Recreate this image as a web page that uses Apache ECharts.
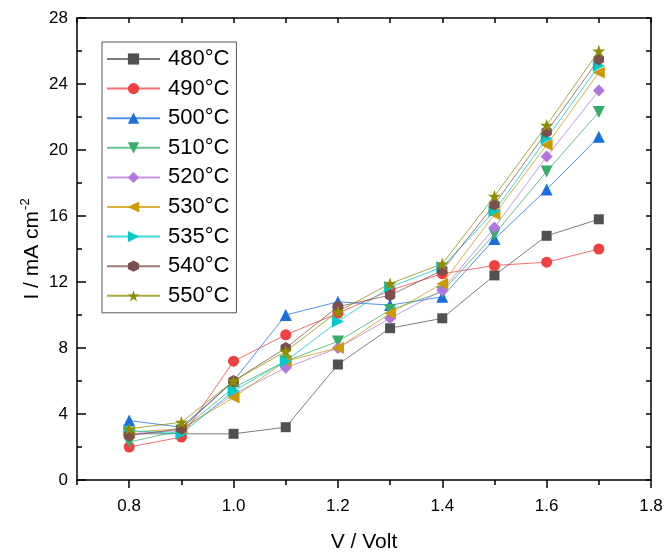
<!DOCTYPE html>
<html>
<head>
<meta charset="utf-8">
<script src="https://cdn.jsdelivr.net/npm/echarts@6/dist/echarts.min.js"></script>
<style>
  html, body { margin: 0; padding: 0; background: #fff; }
  #chart { width: 667px; height: 554px; }
</style>
</head>
<body>
<div id="chart"></div>
<script>
const volts = [0.8, 0.9, 1.0, 1.1, 1.2, 1.3, 1.4, 1.5, 1.6, 1.7];

const t480 = [2.8, 2.8, 2.8, 3.2, 7.0, 9.2, 9.8, 12.4, 14.8, 15.8];
const t490 = [2.0, 2.6, 7.2, 8.8, 10.1, 11.5, 12.5, 13.0, 13.2, 14.0];
const t500 = [3.6, 3.2, 6.0, 10.0, 10.8, 10.6, 11.1, 14.6, 17.6, 20.8];
const t510 = [2.3, 3.0, 5.6, 7.2, 8.4, 10.3, 11.4, 14.9, 18.7, 22.3];
const t520 = [2.8, 3.0, 5.2, 6.8, 8.0, 9.8, 11.5, 15.3, 19.6, 23.6];
const t530 = [2.9, 3.1, 5.0, 7.2, 8.0, 10.1, 11.9, 16.1, 20.3, 24.7];
const t535 = [3.0, 2.8, 5.4, 7.2, 9.6, 11.7, 12.9, 16.3, 20.7, 25.1];
const t540 = [2.7, 3.1, 6.0, 8.0, 10.5, 11.2, 12.7, 16.7, 21.1, 25.5];
const t550 = [3.1, 3.5, 6.0, 7.8, 10.2, 11.9, 13.1, 17.2, 21.5, 26.0];

const names = ['480°C', '490°C', '500°C', '510°C', '520°C', '530°C', '535°C', '540°C', '550°C'];

// tick positions
const xMajorTicks = [0.8, 1.0, 1.2, 1.4, 1.6, 1.8];
const xMinorTicks = [0.7, 0.9, 1.1, 1.3, 1.5, 1.7];
const xTopTicks = [0.7, 0.8, 0.9, 1.0, 1.1, 1.2, 1.3, 1.4, 1.5, 1.6, 1.7, 1.8];
const yTicks = [0, 4, 8, 12, 16, 20, 24, 28];

const FONT = '"Liberation Sans", Arial, sans-serif';

const hexagon = 'path://M0,-1 L0.866,-0.5 L0.866,0.5 L0,1 L-0.866,0.5 L-0.866,-0.5 Z';
const star = 'path://M0,-1 L0.235,-0.324 L0.951,-0.309 L0.380,0.124 L0.588,0.809 L0,0.4 L-0.588,0.809 L-0.380,0.124 L-0.951,-0.309 L-0.235,-0.324 Z';

const styles = [
  { data: t480, color: '#515151', symbol: 'rect', size: 10, rotate: 0 },
  { data: t490, color: '#F14040', symbol: 'circle', size: 11, rotate: 0 },
  { data: t500, color: '#1A6FDF', symbol: 'triangle', size: 12, rotate: 0 },
  { data: t510, color: '#37AD6B', symbol: 'triangle', size: 12, rotate: 180 },
  { data: t520, color: '#B177DE', symbol: 'diamond', size: 12, rotate: 0 },
  { data: t530, color: '#CC9900', symbol: 'triangle', size: 12, rotate: 90 },
  { data: t535, color: '#00CBCC', symbol: 'triangle', size: 12, rotate: -90 },
  { data: t540, color: '#7D4E4E', symbol: hexagon, size: 12, rotate: 0 },
  { data: t550, color: '#8E8E00', symbol: star, size: 13, rotate: 0 }
];

const chart = echarts.init(document.getElementById('chart'));

const option = {
  animation: false,
  backgroundColor: '#fff',
  grid: { left: 77, right: 16, top: 18, bottom: 74, outerBoundsMode: 'none' },
  legend: {
    orient: 'vertical',
    left: 102,
    top: 42,
    padding: [5, 7, 5, 4],
    borderColor: '#555',
    borderWidth: 1,
    itemWidth: 53,
    itemHeight: 14,
    itemGap: 5.6,
    textStyle: { fontSize: 22, fontFamily: FONT, color: '#000', lineHeight: 24, padding: [0, 0, 0, 3] },
    data: names
  },
  xAxis: [
    {
      type: 'value', position: 'bottom', min: 0.7, max: 1.8,
      name: 'V / Volt', nameLocation: 'middle', nameGap: 52, nameMoveOverlap: false,
      nameTextStyle: { fontSize: 21, fontFamily: FONT, color: '#000' },
      axisLine: { lineStyle: { color: '#000', width: 1.5 } },
      axisTick: { customValues: xMajorTicks, length: 8, lineStyle: { color: '#000', width: 1.5 } },
      axisLabel: {
        customValues: xMajorTicks, margin: 18,
        fontSize: 17, fontFamily: FONT, color: '#000',
        formatter: v => v.toFixed(1)
      },
      splitLine: { show: false }
    },
    {
      type: 'value', position: 'bottom', min: 0.7, max: 1.8,
      axisLine: { show: false },
      axisTick: { customValues: xMinorTicks, length: 5, lineStyle: { color: '#000', width: 1.5 } },
      axisLabel: { show: false },
      splitLine: { show: false }
    },
    {
      type: 'value', position: 'top', min: 0.7, max: 1.8,
      axisLine: { lineStyle: { color: '#000', width: 1.5 } },
      axisTick: { customValues: xTopTicks, inside: true, length: 5, lineStyle: { color: '#000', width: 1.5 } },
      axisLabel: { show: false },
      splitLine: { show: false }
    }
  ],
  yAxis: [
    {
      type: 'value', position: 'left', min: 0, max: 28, interval: 4,
      name: '{a|I / mA cm}{s|-2}', nameLocation: 'middle', nameGap: 32, nameRotate: 90,
      nameMoveOverlap: false,
      nameTextStyle: {
        rich: {
          a: { fontSize: 21, fontFamily: FONT, color: '#000', lineHeight: 26 },
          s: { fontSize: 13, fontFamily: FONT, color: '#000', lineHeight: 26, verticalAlign: 'top', padding: [0, 0, 10, 1] }
        }
      },
      axisLine: { lineStyle: { color: '#000', width: 1.5 } },
      axisTick: { inside: true, length: 9, lineStyle: { color: '#000', width: 1.5 } },
      minorTick: { show: true, splitNumber: 2, length: 5, lineStyle: { color: '#000', width: 1.5 } },
      axisLabel: {
        margin: 9, fontSize: 17, fontFamily: FONT, color: '#000',
        customValues: yTicks
      },
      splitLine: { show: false }
    },
    {
      type: 'value', position: 'right', min: 0, max: 28, interval: 2,
      axisLine: { lineStyle: { color: '#000', width: 1.5 } },
      axisTick: { inside: true, length: 5, lineStyle: { color: '#000', width: 1.5 } },
      axisLabel: { show: false },
      splitLine: { show: false }
    }
  ],
  series: styles.map((s, i) => ({
    name: names[i],
    type: 'line',
    xAxisIndex: 0,
    yAxisIndex: 0,
    data: s.data.map((y, j) => [volts[j], y]),
    symbol: s.symbol,
    symbolSize: s.size,
    symbolRotate: s.rotate,
    symbolKeepAspect: true,
    showAllSymbol: true,
    lineStyle: { color: s.color, width: 1, opacity: 0.75 },
    itemStyle: { color: s.color, opacity: 1 },
    z: 2 + i
  }))
};

chart.setOption(option);
</script>
</body>
</html>
